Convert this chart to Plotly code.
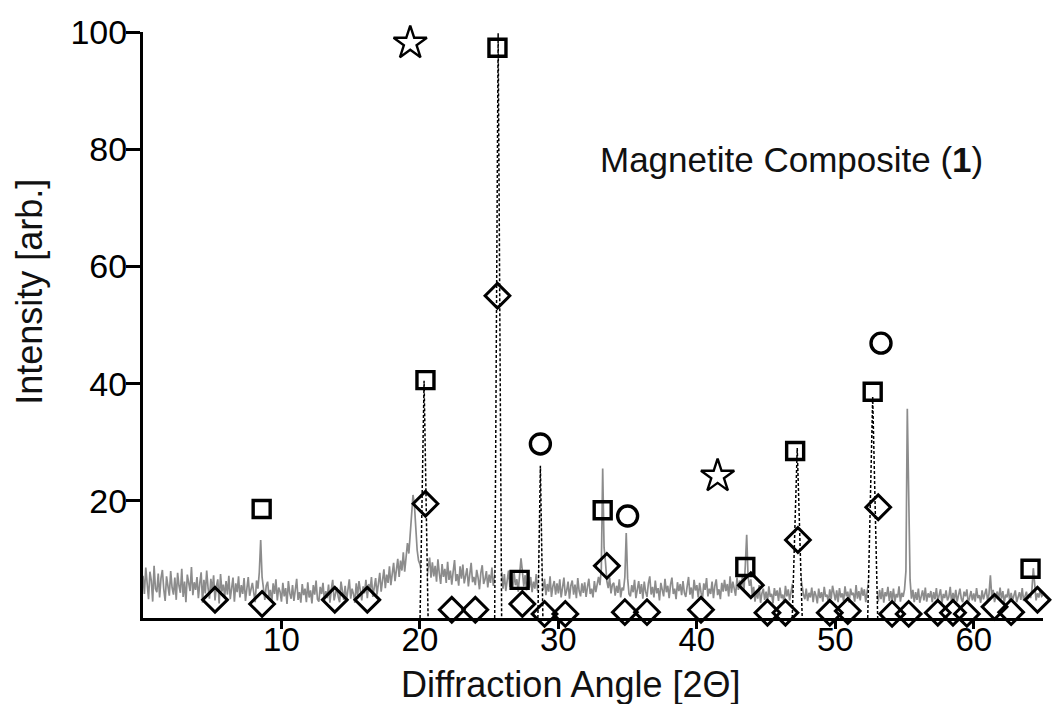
import plotly.graph_objects as go

# ---------------- data ----------------
# gray measured pattern, sampled every 0.1 deg from 0 to 65 (2-theta); one row per degree
scan_start = 0.0
scan_step = 0.1
intensity = [
    7.2, 4.1, 8.6, 5.3, 3.2, 7.9, 6.4, 2.8, 8.9, 5.0,
    4.4, 7.6, 3.5, 6.8, 8.2, 4.9, 2.9, 7.1, 5.6, 3.8,
    8.0, 5.2, 4.0, 6.9, 3.1, 7.7, 5.5, 4.3, 8.4, 3.6,
    6.2, 2.7, 7.4, 5.8, 4.6, 8.7, 3.9, 6.1, 4.8, 7.0,
    3.4, 5.9, 7.8, 2.6, 6.5, 4.2, 8.1, 5.1, 3.3, 6.7,
    4.7, 7.3, 3.0, 5.4, 6.6, 2.5, 7.5, 4.5, 5.7, 3.7,
    6.3, 4.0, 7.2, 3.2, 5.0, 6.9, 2.8, 5.9, 4.4, 7.1,
    3.5, 5.6, 4.1, 6.8, 2.9, 5.3, 7.0, 3.8, 4.9, 6.0,
    4.3, 2.7, 6.4, 5.0, 7.8, 13.3, 7.0, 4.6, 3.1, 5.5,
    6.2, 3.6, 4.8, 2.6, 5.9, 4.1, 6.6, 3.0, 5.2, 4.5,
    2.8, 6.0, 3.7, 5.1, 2.4, 6.3, 4.2, 3.3, 5.6, 2.9,
    4.9, 6.7, 3.1, 4.4, 2.6, 5.8, 3.9, 5.0, 2.7, 6.1,
    3.5, 4.7, 2.5, 5.6, 4.0, 6.4, 3.2, 2.8, 5.3, 4.1,
    6.0, 2.9, 4.6, 3.4, 5.7, 2.6, 4.9, 6.5, 3.0, 4.3,
    5.2, 3.6, 2.7, 6.2, 4.4, 3.1, 5.5, 2.9, 4.8, 6.6,
    3.3, 5.0, 4.1, 2.6, 5.9, 3.8, 6.3, 4.5, 3.0, 5.4,
    4.2, 6.5, 3.4, 5.8, 4.7, 7.0, 3.6, 5.2, 6.8, 4.0,
    5.9, 7.7, 4.5, 6.9, 8.3, 5.1, 7.4, 6.0, 8.8, 5.6,
    7.2, 9.4, 6.3, 8.6, 10.1, 7.0, 9.8, 8.1, 11.2, 7.9,
    10.5, 12.8, 11.0, 14.6, 17.2, 21.0, 19.4, 15.0, 11.6, 9.8,
    9.2, 8.0, 10.4, 7.3, 9.0, 6.8, 8.7, 10.3, 6.9, 9.5,
    7.1, 8.9, 6.2, 10.0, 7.6, 5.8, 9.2, 7.0, 8.4, 6.0,
    9.6, 6.5, 8.1, 5.7, 7.9, 9.9, 6.3, 7.5, 5.5, 8.8,
    6.7, 9.1, 5.9, 7.3, 8.5, 5.4, 7.8, 9.4, 6.1, 7.0,
    5.6, 8.2, 6.9, 4.9, 7.7, 9.0, 5.8, 6.6, 8.0, 5.2,
    7.4, 6.0, 8.6, 5.5, 7.0, 9.0, 20.0, 8.0, 6.8, 7.9,
    5.0, 7.5, 4.6, 6.9, 8.1, 5.3, 6.4, 4.8, 7.8, 5.6,
    6.6, 4.5, 7.2, 10.2, 8.0, 5.4, 7.3, 4.7, 6.5, 5.2,
    7.0, 4.4, 6.2, 5.0, 7.5, 4.6, 6.0, 18.0, 5.5, 4.8,
    6.7, 3.9, 5.8, 4.5, 7.1, 3.6, 5.4, 6.3, 4.0, 5.9,
    4.2, 6.6, 3.5, 5.1, 6.9, 3.8, 4.7, 6.2, 3.3, 5.5,
    6.4, 4.0, 5.7, 3.4, 6.8, 4.6, 3.7, 5.9, 4.3, 6.1,
    3.6, 5.3, 6.7, 4.1, 5.0, 3.5, 6.3, 4.4, 5.8, 7.0,
    5.6, 8.4, 25.5, 12.0, 9.6, 6.3, 5.1, 6.9, 4.2, 5.7,
    6.0, 3.8, 5.5, 4.3, 6.6, 3.5, 5.2, 4.7, 7.0, 14.5,
    6.8, 4.1, 3.7, 5.6, 4.4, 6.5, 3.4, 5.0, 6.3, 4.1,
    5.8, 3.3, 6.2, 4.5, 3.6, 5.9, 7.1, 4.0, 5.3, 3.5,
    6.4, 4.2, 5.1, 3.0, 6.0, 4.8, 3.7, 6.7, 4.4, 5.5,
    3.4, 5.7, 6.9, 4.1, 5.0, 3.2, 6.1, 4.6, 5.8, 3.9,
    6.3, 4.3, 3.6, 5.4, 7.0, 4.0, 5.2, 3.3, 6.5, 4.7,
    5.6, 3.5, 6.0, 4.4, 3.1, 5.9, 4.8, 6.8, 3.7, 5.0,
    4.1, 6.2, 3.4, 5.5, 6.6, 3.9, 4.9, 3.2, 6.0, 4.5,
    6.5, 4.6, 5.8, 3.7, 7.1, 4.3, 6.2, 5.0, 3.8, 6.9,
    4.8, 6.4, 5.2, 7.3, 4.5, 9.0, 14.2, 7.0, 5.5, 6.6,
    3.9, 5.3, 2.8, 4.6, 3.3, 5.6, 2.6, 4.2, 5.0, 3.1,
    4.5, 2.7, 5.4, 3.6, 4.1, 2.5, 5.1, 3.8, 4.7, 2.9,
    5.2, 3.4, 4.0, 2.6, 5.5, 3.7, 4.9, 3.0, 4.4, 5.8,
    3.6, 4.8, 6.5, 8.0, 9.0, 7.0, 5.2, 4.0, 3.2, 5.0,
    2.9, 4.3, 3.5, 5.2, 2.7, 4.6, 3.9, 2.5, 5.0, 3.4,
    4.4, 2.8, 5.3, 3.6, 4.0, 2.6, 4.9, 3.2, 5.5, 3.8,
    3.0, 4.7, 2.7, 5.1, 3.5, 4.2, 2.9, 5.4, 3.7, 4.5,
    2.6, 5.0, 3.9, 4.3, 2.8, 5.6, 3.3, 4.6, 3.0, 5.2,
    3.8, 4.9, 2.7, 4.5, 6.0, 8.0, 9.0, 6.5, 5.0, 3.4,
    4.2, 2.8, 4.8, 3.2, 5.1, 2.6, 4.4, 3.7, 5.3, 2.9,
    4.6, 3.1, 5.0, 2.7, 4.1, 3.5, 5.4, 2.8, 4.3, 3.6,
    4.9, 8.0, 35.7, 23.0, 6.5, 3.3, 4.8, 2.7, 4.4, 3.1,
    5.0, 2.6, 3.9, 4.7, 3.0, 5.2, 2.8, 4.2, 3.5, 4.6,
    2.7, 4.4, 3.2, 5.1, 2.9, 3.8, 4.9, 2.5, 4.1, 3.4,
    4.7, 3.0, 3.6, 5.3, 2.6, 4.3, 3.1, 4.8, 2.8, 3.9,
    5.0, 3.3, 2.7, 4.5, 3.7, 4.9, 2.6, 3.5, 4.6, 3.0,
    4.2, 2.8, 5.1, 3.4, 3.9, 2.6, 4.7, 3.2, 4.4, 5.0,
    2.9, 4.1, 7.3, 3.6, 4.8, 2.7, 3.8, 4.5, 3.1, 5.2,
    3.3, 4.6, 2.6, 4.0, 3.5, 5.0, 2.8, 4.3, 3.0, 3.9,
    4.7, 2.7, 3.6, 4.4, 3.1, 5.1, 2.9, 3.8, 4.5, 3.2,
    4.1, 3.4, 4.8, 8.5, 5.6, 3.0, 4.2, 3.5, 4.9, 3.7,
    3.9,
]
angles = [round(scan_start + i * scan_step, 1) for i in range(len(intensity))]

# dashed reference peaks (position, height, half base width)
ref_pos = [20.3, 25.65, 28.7, 47.25, 52.7]
ref_height = [40.5, 99.8, 26.0, 29.0, 37.7]
ref_halfwidth = [0.29, 0.25, 0.18, 0.36, 0.36]

# phase markers
star_x = [19.3, 41.5]
star_y = [98.1, 24.2]
square_x = [8.57, 20.4, 25.6, 27.2, 33.2, 43.5, 47.1, 52.7, 64.1]
square_y = [18.6, 40.6, 97.3, 6.5, 18.4, 8.7, 28.5, 38.6, 8.4]
circle_x = [28.7, 35.0, 53.3]
circle_y = [29.7, 17.4, 46.9]
diamond_x = [5.2, 8.6, 13.85, 16.2, 20.4, 22.3, 24.0, 25.6, 27.4, 29.0, 30.5,
             33.5, 34.8, 36.4, 40.3, 43.9, 45.1, 46.4, 47.3, 49.6, 50.9, 53.1,
             54.1, 55.3, 57.4, 58.5, 59.5, 61.5, 62.7, 64.6]
diamond_y = [3.1, 2.4, 3.1, 3.1, 19.5, 1.4, 1.4, 55.0, 2.4, 0.7, 0.7,
             8.9, 1.0, 1.0, 1.4, 5.6, 0.9, 0.9, 13.3, 0.9, 1.2, 18.9,
             0.7, 0.7, 0.9, 0.9, 0.7, 1.9, 1.0, 3.1]

x_ticks = [10, 20, 30, 40, 50, 60]
y_ticks = [20, 40, 60, 80, 100]

FONT = "Liberation Sans, Arial, sans-serif"

# ---------------- figure ----------------
fig = go.Figure()

fig.add_trace(go.Scatter(
    x=angles, y=intensity, mode="lines",
    line=dict(color="#8c8c8c", width=1.7),
    hoverinfo="skip", showlegend=False))

tri_x, tri_y = [], []
for p, h, w in zip(ref_pos, ref_height, ref_halfwidth):
    tri_x += [p - w, p, p + w, None]
    tri_y += [0, h, 0, None]
fig.add_trace(go.Scatter(
    x=tri_x, y=tri_y, mode="lines", fill="toself", fillcolor="white",
    line=dict(color="black", width=1.5, dash="3px,2px"),
    hoverinfo="skip", showlegend=False))

def markers(xs, ys, symbol, size, width):
    fig.add_trace(go.Scatter(
        x=xs, y=ys, mode="markers", cliponaxis=False,
        marker=dict(symbol=symbol, size=size, color="black",
                    line=dict(color="black", width=width)),
        showlegend=False))

markers(diamond_x, diamond_y, "diamond-open", 19, 3)
markers(square_x, square_y, "square-open", 17, 3.4)
markers(circle_x, circle_y, "circle-open", 20, 3.4)
markers(star_x, star_y, "star-open", 25, 2.4)

fig.add_annotation(x=46.8, y=78.2, xref="x", yref="y",
                   xanchor="center", yanchor="middle",
                   text="Magnetite Composite (<b>1</b>)", showarrow=False,
                   font=dict(family=FONT, size=35, color="#111"))
fig.add_annotation(x=-0.126, y=0.556, xref="paper", yref="paper",
                   xanchor="center", yanchor="middle",
                   text="Intensity [arb.]", textangle=-90, showarrow=False,
                   font=dict(family=FONT, size=36, color="#111"))
fig.add_annotation(x=0.476, y=-0.113, xref="paper", yref="paper",
                   xanchor="center", yanchor="middle",
                   text="Diffraction Angle [2\u0398]", showarrow=False,
                   font=dict(family=FONT, size=36, color="#111"))

fig.update_layout(
    width=1053, height=704,
    margin=dict(l=143, r=10, t=32, b=86),
    paper_bgcolor="white", plot_bgcolor="white",
    showlegend=False,
    font=dict(family=FONT, color="black"),
)
fig.update_xaxes(range=[0, 65], tickvals=x_ticks, showgrid=False, zeroline=False,
                 showline=True, linecolor="black", linewidth=3,
                 ticks="outside", ticklen=8, tickwidth=3, tickcolor="black",
                 ticklabelstandoff=-18,
                 tickfont=dict(family=FONT, size=33, color="black"))
fig.update_yaxes(range=[0, 100], tickvals=y_ticks, showgrid=False, zeroline=False,
                 showline=True, linecolor="black", linewidth=3,
                 ticks="outside", ticklen=14, tickwidth=3, tickcolor="black",
                 ticklabelstandoff=-8,
                 tickfont=dict(family=FONT, size=34, color="black"))

fig.write_html("out.html")
